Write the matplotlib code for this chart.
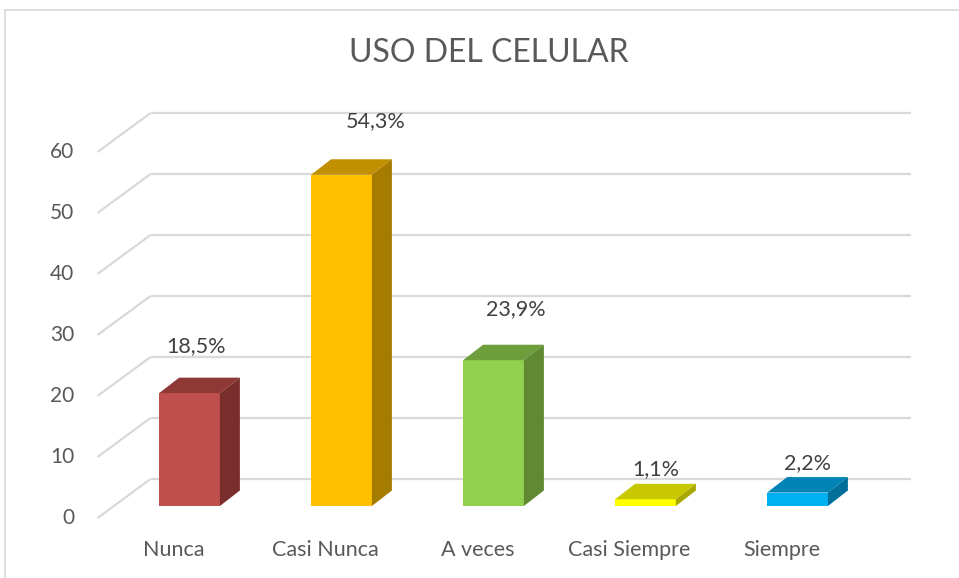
import matplotlib
matplotlib.use('Agg')
import matplotlib.pyplot as plt
from matplotlib.patches import Polygon
from matplotlib.lines import Line2D
from matplotlib.transforms import offset_copy

# data
categories = ['Nunca', 'Casi Nunca', 'A veces', 'Casi Siempre', 'Siempre']
values = [18.5, 54.3, 23.9, 1.1, 2.2]
value_labels = ['18,5%', '54,3%', '23,9%', '1,1%', '2,2%']
yticks = [0, 10, 20, 30, 40, 50, 60]

# colours (front, top, side)
front_cols = ['#C0504D', '#FFC000', '#92D050', '#FFFF00', '#00B0F0']
top_cols = ['#8F3937', '#C09000', '#6E9D3C', '#C8C800', '#0084B5']
side_cols = ['#7A2E2C', '#A67C00', '#5F8A33', '#A8A800', '#006F99']

W_PX, H_PX = 959, 578
DPI = 100
fig = plt.figure(figsize=(W_PX / DPI, H_PX / DPI), dpi=DPI)
fig.patch.set_facecolor('white')

# axes placed so that category spacing = 152px and 10 units = 61px
left, right = 97.5, 857.5
bottom, top = 518, 518 - 70 * 6.1
ax = fig.add_axes([left / W_PX, 1 - bottom / H_PX,
                   (right - left) / W_PX, (bottom - top) / H_PX])
ax.set_xlim(-0.5, 4.5)
ax.set_ylim(0, 70)
ax.axis('off')

px_x = 1 / 152.0   # category units per pixel
px_y = 10 / 61.0   # value units per pixel

# depth offsets (pixels)
wall_dx, wall_dy = 53 * px_x, 39 * px_y
bar_dx, bar_dy = 16 * px_x, 12 * px_y
side_dx, side_dy = 20 * px_x, 15.5 * px_y
half_w = 0.2

grid_col = '#D9D9D9'
for v in yticks:
    ax.plot([-0.5, -0.5 + wall_dx], [v, v + wall_dy], color=grid_col, lw=1.6,
            clip_on=False, solid_capstyle='butt', zorder=1)
    ax.plot([-0.5 + wall_dx, 4.5 + wall_dx], [v + wall_dy, v + wall_dy],
            color=grid_col, lw=1.6, clip_on=False, solid_capstyle='butt', zorder=1)
    t = offset_copy(ax.transData, fig=fig, x=-23, y=0, units='dots')
    ax.text(-0.5, v, str(v), transform=t, ha='right', va='center',
            fontsize=15, color='#595959', family='Lato')

# label nudges in pixels (dx, dy above bar top)
nudge = [(-3, 22), (24, 28), (12, 26), (0, 5), (0, 4)]

for i, v in enumerate(values):
    x0 = i - half_w + bar_dx
    x1 = i + half_w + bar_dx
    y0 = bar_dy
    y1 = v + bar_dy
    front = Polygon([(x0, y0), (x1, y0), (x1, y1), (x0, y1)], closed=True,
                    facecolor=front_cols[i], edgecolor='none', zorder=3, clip_on=False)
    topf = Polygon([(x0, y1), (x1, y1), (x1 + side_dx, y1 + side_dy), (x0 + side_dx, y1 + side_dy)],
                   closed=True, facecolor=top_cols[i], edgecolor='none', zorder=3, clip_on=False)
    side = Polygon([(x1, y0), (x1, y1), (x1 + side_dx, y1 + side_dy), (x1 + side_dx, y0 + side_dy)],
                   closed=True, facecolor=side_cols[i], edgecolor='none', zorder=3, clip_on=False)
    for p in (front, topf, side):
        ax.add_patch(p)
    t = offset_copy(ax.transData, fig=fig, x=nudge[i][0], y=nudge[i][1], units='dots')
    ax.text(i + bar_dx + side_dx / 2, y1 + side_dy, value_labels[i], transform=t,
            ha='center', va='bottom', fontsize=15.5, color='#404040', family='Lato', zorder=4)

    t = offset_copy(ax.transData, fig=fig, x=0, y=-32, units='dots')
    ax.text(i, 0, categories[i], transform=t, ha='center', va='center',
            fontsize=15.5, color='#595959', family='Lato')

# title
fig.text(489 / W_PX, 1 - 53 / H_PX, 'USO DEL CELULAR', ha='center', va='center',
         fontsize=23, color='#595959', family='Lato')

# chart border (left and top only visible)
fig.add_artist(Line2D([4.5 / W_PX, 4.5 / W_PX], [0, 1 - 9.5 / H_PX],
                      transform=fig.transFigure, color=grid_col, lw=1.2))
fig.add_artist(Line2D([4.5 / W_PX, 1], [1 - 9.5 / H_PX, 1 - 9.5 / H_PX],
                      transform=fig.transFigure, color=grid_col, lw=1.2))

fig.savefig('out.png', dpi=DPI)
